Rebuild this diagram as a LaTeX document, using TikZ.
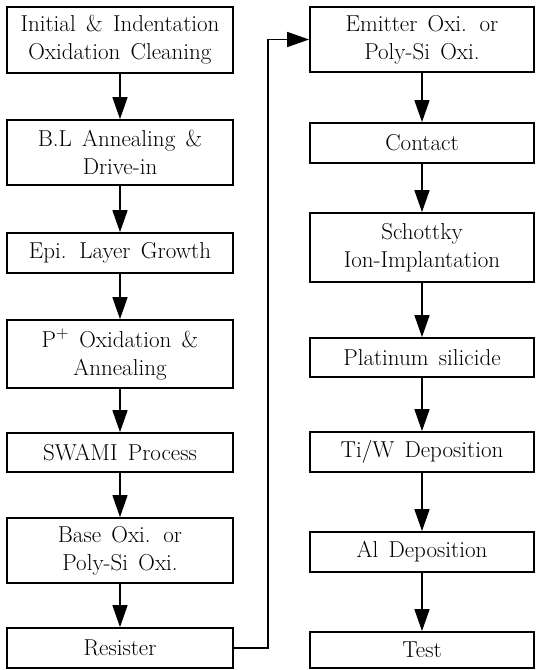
\documentclass[tikz,border=0pt]{standalone}
\usetikzlibrary{arrows.meta}
\newcommand\myboxfont{\fontsize{23}{28}\selectfont\spaceskip=0.45em plus 0.1em\relax}
\begin{document}
\begin{tikzpicture}[x=1pt,y=-1pt,
  stepbox/.style={draw,line width=1.8pt,align=center,inner sep=0pt,font=\myboxfont},
  lbox/.style={stepbox,minimum width=226pt},
  rbox/.style={stepbox,minimum width=224pt},
  flow/.style={line width=1.6pt,-{Triangle[length=22pt,width=15pt]}}]
\useasboundingbox (0,0) rectangle (536,670);
\node[lbox,minimum height=66pt] (l1) at (120,40) {Initial \& Indentation\\Oxidation Cleaning};
\node[lbox,minimum height=65pt] (l2) at (120,152.5) {B.L Annealing \&\\Drive-in};
\node[lbox,minimum height=40pt] (l3) at (120,253) {Epi. Layer Growth};
\node[lbox,minimum height=68pt] (l4) at (120,354) {P$^{+}$ Oxidation \&\\Annealing};
\node[lbox,minimum height=39pt] (l5) at (120,452.5) {SWAMI Process};
\node[lbox,minimum height=65pt] (l6) at (120,550.5) {Base Oxi. or\\Poly-Si Oxi.};
\node[lbox,minimum height=40pt] (l7) at (120,648) {Resister};
\node[rbox,minimum height=65pt] (r1) at (422,39.5) {Emitter Oxi. or\\Poly-Si Oxi.};
\node[rbox,minimum height=40pt] (r2) at (422,143) {Contact};
\node[rbox,minimum height=69pt] (r3) at (422,247.5) {Schottky\\Ion-Implantation};
\node[rbox,minimum height=39pt] (r4) at (422,357.5) {Platinum silicide};
\node[rbox,minimum height=40pt] (r5) at (422,452) {Ti/W Deposition};
\node[rbox,minimum height=40pt] (r6) at (422,552) {Al Deposition};
\node[rbox,minimum height=36pt] (r7) at (422,650) {Test};
\coordinate (c1) at (268,648);
\coordinate (c2) at (268,39.5);
\foreach \a/\b in {l1/l2,l2/l3,l3/l4,l4/l5,l5/l6,l6/l7,r1/r2,r2/r3,r3/r4,r4/r5,r5/r6,r6/r7}
  \draw[flow] (\a) -- (\b);
\draw[flow] (l7.east) -- (c1) -- (c2) -- (r1.west);
\end{tikzpicture}
\end{document}
